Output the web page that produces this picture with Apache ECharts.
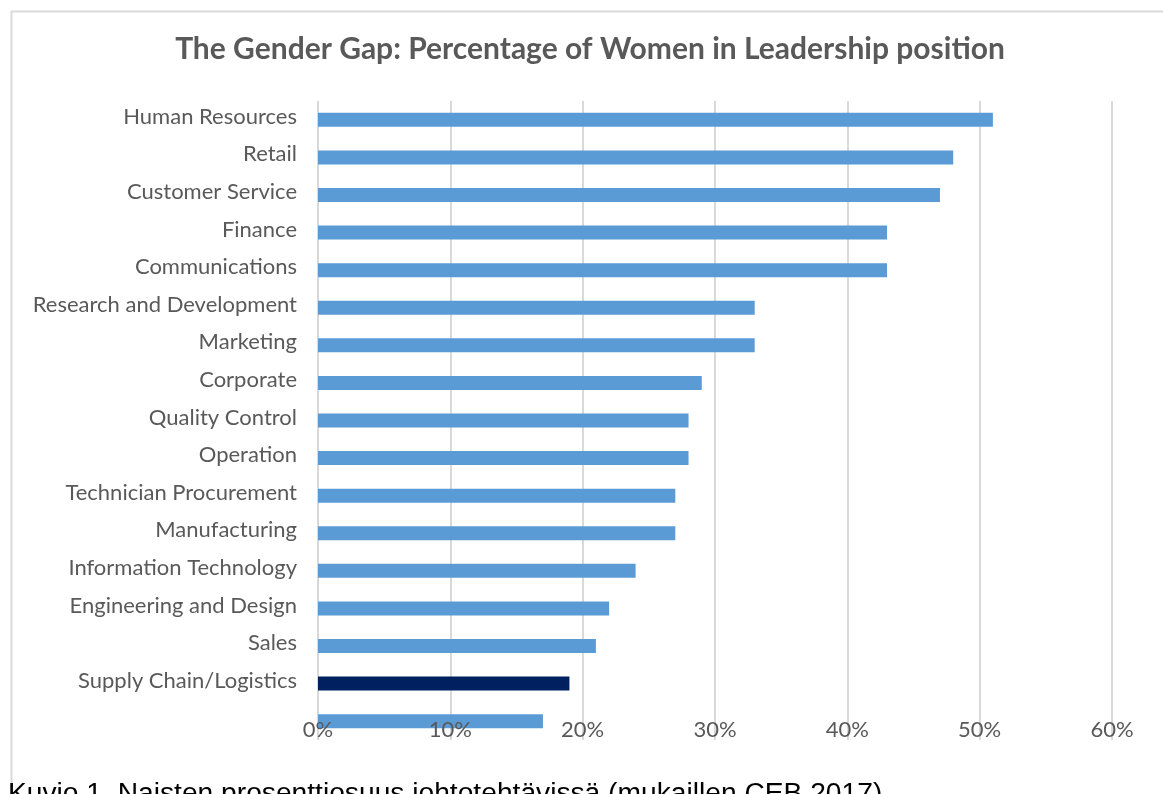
<!DOCTYPE html>
<html>
<head>
<meta charset="utf-8">
<script src="https://cdn.jsdelivr.net/npm/echarts@6/dist/echarts.min.js"></script>
<style>
  html, body { margin: 0; padding: 0; background: #fff; }
  #chart { width: 1163px; height: 794px; }
</style>
</head>
<body>
<div id="chart"></div>
<script>
// Departments, listed top to bottom (the last row has no label)
const categories = [
  'Human Resources', 'Retail', 'Customer Service', 'Finance', 'Communications',
  'Research and Development', 'Marketing', 'Corporate', 'Quality Control',
  'Operation', 'Technician Procurement', 'Manufacturing', 'Information Technology',
  'Engineering and Design', 'Sales', 'Supply Chain/Logistics', ''
];
// Share of women in leadership positions, percent
const values = [51, 48, 47, 43, 43, 33, 33, 29, 28, 28, 27, 27, 24, 22, 21, 19, 17];
// Row drawn in the accent colour
const highlighted = ['Supply Chain/Logistics'];
const tickMax = 60;
const tickStep = 10;

const baseColor = '#5B9BD5';
const accentColor = '#002060';
const textColor = '#595959';

const chart = echarts.init(document.getElementById('chart'));

chart.setOption({
  animation: false,
  backgroundColor: '#fff',
  title: {
    text: 'The Gender Gap: Percentage of Women in Leadership position',
    left: 585,
    textAlign: 'center',
    top: 29,
    textStyle: { fontFamily: 'Lato', fontWeight: 'bold', fontSize: 30, color: textColor }
  },
  grid: { left: 318, right: 51, top: 101, bottom: 54, containLabel: false },
  xAxis: [
    {
      // gridlines, drawn beneath the bars
      type: 'value', min: 0, max: tickMax, interval: tickStep,
      axisLine: { show: false }, axisTick: { show: false },
      axisLabel: { show: false },
      splitLine: { show: true, lineStyle: { color: '#D9D9D9', width: 2 } },
      z: 0
    },
    {
      // percent labels, drawn above the bars
      type: 'value', min: 0, max: tickMax, interval: tickStep,
      position: 'bottom',
      axisLine: { show: false }, axisTick: { show: false },
      splitLine: { show: false },
      axisLabel: {
        margin: -21,
        formatter: v => v + '%',
        fontFamily: 'Lato', fontSize: 22, color: textColor
      },
      z: 5
    }
  ],
  yAxis: {
    type: 'category', data: categories, inverse: true,
    axisLine: { show: false }, axisTick: { show: false },
    splitLine: { show: false },
    axisLabel: {
      margin: 21, fontFamily: 'Lato', fontSize: 22, color: textColor,
      // a short line box sitting on the row centre lifts the text a little
      verticalAlign: 'bottom', lineHeight: 6
    }
  },
  series: [{
    type: 'bar',
    xAxisIndex: 0,
    barWidth: 14,
    data: values.map((v, i) => ({
      value: v,
      itemStyle: { color: highlighted.includes(categories[i]) ? accentColor : baseColor }
    }))
  }],
  graphic: [
    {
      type: 'rect', left: 9, top: 9, silent: true,
      shape: { x: 0, y: 0, width: 1153, height: 820 },
      style: { fill: 'none', stroke: '#D9D9D9', lineWidth: 2 },
      z: -1
    },
    {
      type: 'text', left: 8, top: 780,
      style: {
        text: 'Kuvio 1. Naisten prosenttiosuus johtotehtävissä (mukaillen CEB 2017)',
        fontFamily: 'Liberation Sans', fontSize: 28.2, fill: '#000'
      },
      z: 10
    }
  ]
});
</script>
</body>
</html>
